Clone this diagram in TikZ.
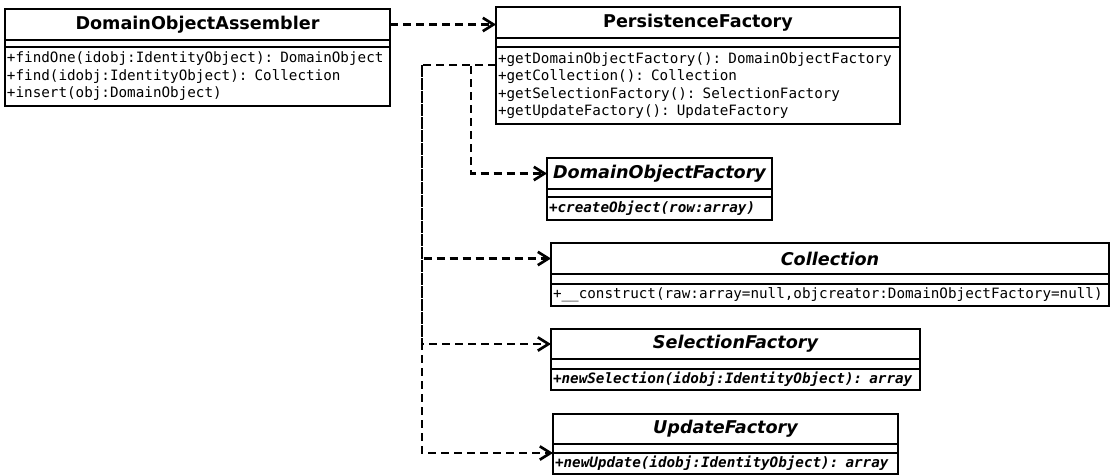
\documentclass[tikz,border=0pt]{standalone}
\usepackage{fontspec}
\setmainfont{DejaVu Sans}
\setmonofont{DejaVu Sans Mono}
\usetikzlibrary{arrows.meta}

\tikzset{
  ctitle/.style={draw, line width=1.9pt, anchor=north west, inner sep=0pt, outer sep=0pt,
    minimum height=23.25pt, font=\fontsize{13.2}{15}\selectfont\bfseries},
  cgap/.style={draw, line width=1.9pt, anchor=north west, inner sep=0pt, outer sep=0pt},
  cops/.style={draw, line width=1.9pt, anchor=north west, inner xsep=1.5pt, outer sep=0pt,
    inner ysep=0pt, align=left, font=\fontsize{10.7}{13.1}\selectfont\ttfamily},
  dep/.style={line width=2pt, dash pattern=on 6pt off 3.75pt,
    -{Straight Barb[length=8pt,width=10pt]}}
}

\begin{document}
\begin{tikzpicture}[x=0.75pt,y=-0.75pt]
    \useasboundingbox (0,0) rectangle (1111,475);
    % DomainObjectAssembler
    \node[ctitle, minimum width=288.75pt] (doa) at (5,9) {DomainObjectAssembler};
    \node[cgap, minimum width=288.75pt, minimum height=5.25pt] (doag) at (doa.south west) {};
    \node[cops, text width=285.75pt, minimum height=44.25pt] (doam) at (doag.south west)
        {+findOne(idobj:IdentityObject): DomainObject\\+find(idobj:IdentityObject): Collection\\+insert(obj:DomainObject)};
    % PersistenceFactory
    \node[ctitle, minimum width=303pt] (pf) at (496,7) {PersistenceFactory};
    \node[cgap, minimum width=303pt, minimum height=6.75pt] (pfg) at (pf.south west) {};
    \node[cops, text width=300pt, minimum height=57.75pt] (pfm) at (pfg.south west)
        {+getDomainObjectFactory(): DomainObjectFactory\\+getCollection(): Collection\\+getSelectionFactory(): SelectionFactory\\+getUpdateFactory(): UpdateFactory};
    % DomainObjectFactory
    \node[ctitle, minimum width=168.75pt, font=\fontsize{13.2}{15}\selectfont\bfseries\itshape] (dof) at (547,158) {DomainObjectFactory};
    \node[cgap, minimum width=168.75pt, minimum height=6pt] (dofg) at (dof.south west) {};
    \node[cops, text width=165.75pt, minimum height=17.25pt, font=\fontsize{10.7}{13.1}\selectfont\ttfamily\bfseries\itshape] (dofm) at (dofg.south west)
        {+createObject(row:array)};
    % Collection
    \node[ctitle, minimum width=418.5pt, font=\fontsize{13.2}{15}\selectfont\bfseries\itshape] (col) at (551,243) {Collection};
    \node[cgap, minimum width=418.5pt, minimum height=7.5pt] (colg) at (col.south west) {};
    \node[cops, text width=415.5pt, minimum height=16.5pt] (colm) at (colg.south west)
        {+\_\_construct(raw:array=null,objcreator:DomainObjectFactory=null)};
    % SelectionFactory
    \node[ctitle, minimum width=276.75pt, minimum height=22.5pt, font=\fontsize{13.2}{15}\selectfont\bfseries\itshape] (sel) at (551,329) {SelectionFactory};
    \node[cgap, minimum width=276.75pt, minimum height=7.5pt] (selg) at (sel.south west) {};
    \node[cops, text width=273.75pt, minimum height=15.75pt, font=\fontsize{10.7}{13.1}\selectfont\ttfamily\bfseries\itshape] (selm) at (selg.south west)
        {+newSelection(idobj:IdentityObject): array};
    % UpdateFactory
    \node[ctitle, minimum width=258.75pt, minimum height=22.5pt, font=\fontsize{13.2}{15}\selectfont\bfseries\itshape] (upd) at (553,414) {UpdateFactory};
    \node[cgap, minimum width=258.75pt, minimum height=6.75pt] (updg) at (upd.south west) {};
    \node[cops, text width=255.75pt, minimum height=15.75pt, font=\fontsize{10.7}{13.1}\selectfont\ttfamily\bfseries\itshape] (updm) at (updg.south west)
        {+newUpdate(idobj:IdentityObject): array};

    \coordinate (out) at ([yshift=-13.5pt]pfm.north west);
    \coordinate (busa) at (471,65);
    \coordinate (busb) at (422,65);
    \draw[dep] (doa.east) -- (doa.east -| pf.west);
    \draw[dep] (out) -- (busa) |- (dof.west);
    \draw[dep] (out) -- (busb) |- (updm.north west);
    \draw[dep] (busb) |- (col.west);
    \draw[dep] (busb) |- (sel.west);
\end{tikzpicture}
\end{document}
